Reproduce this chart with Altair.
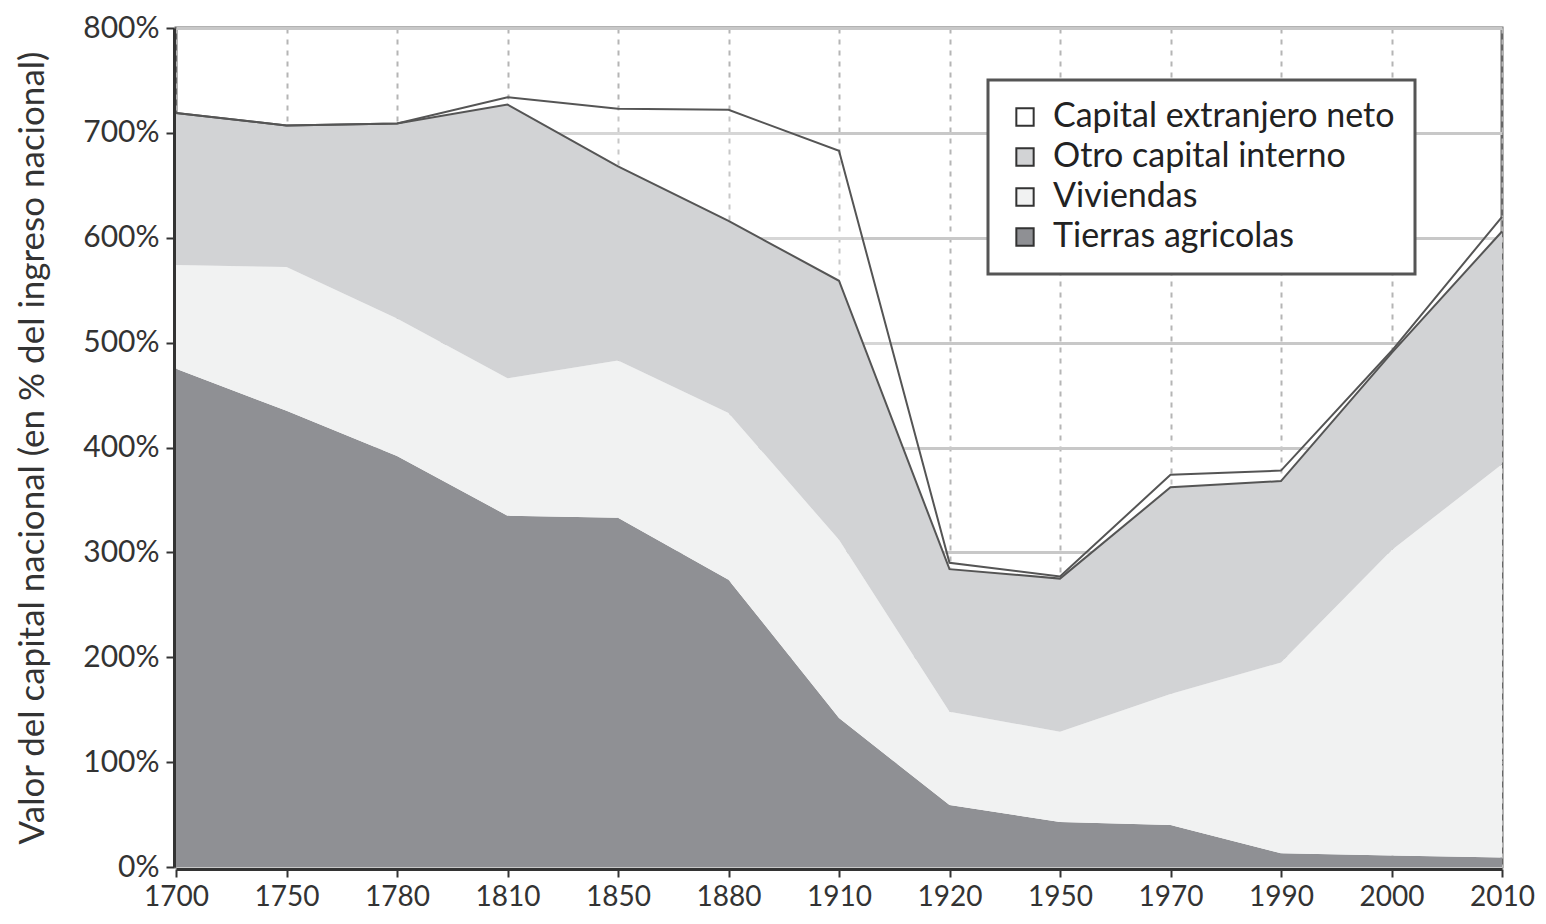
import altair as alt
import pandas as pd

years = ["1700", "1750", "1780", "1810", "1850", "1880", "1910",
         "1920", "1950", "1970", "1990", "2000", "2010"]
tierras = [475, 435, 392, 335, 333, 274, 142, 59, 43, 40, 13, 11, 9]
viviendas = [99, 137, 131, 131, 150, 159, 170, 89, 86, 125, 182, 291, 375]
otro = [145, 135, 186, 261, 185, 183, 247, 136, 146, 197, 173, 188, 222]
extranjero = [0, 0, 0, 7, 55, 106, 124, 6, 2, 12, 10, 2, 14]

series_names = ["Capital extranjero neto", "Otro capital interno", "Viviendas", "Tierras agricolas"]
series_colors = ["rgba(255,255,255,0.25)", "#d2d3d5", "#f1f2f2", "#8f9094"]
stack_order = {"Tierras agricolas": 0, "Viviendas": 1, "Otro capital interno": 2, "Capital extranjero neto": 3}

wide = pd.DataFrame({
    "year": years,
    "Tierras agricolas": tierras,
    "Viviendas": viviendas,
    "Otro capital interno": otro,
    "Capital extranjero neto": extranjero,
})
long = wide.melt(id_vars="year", var_name="serie", value_name="valor")
long["ord"] = long["serie"].map(stack_order)

FONT = "Lato"
xenc = alt.X("year:O", sort=years, scale=alt.Scale(type="point", padding=0),
             axis=alt.Axis(title=None, labelAngle=0, grid=True, gridDash=[5, 6],
                           gridColor="#b5b5b5", gridWidth=2, labelFontSize=28,
                           labelPadding=6, tickSize=8, offset=2))
yscale = alt.Scale(domain=[0, 800], nice=False)

areas = alt.Chart(long).mark_area(interpolate="linear").encode(
    x=xenc,
    y=alt.Y("valor:Q", stack="zero", scale=yscale,
            axis=alt.Axis(values=[0, 100, 200, 300, 400, 500, 600, 700, 800],
                          labelExpr="datum.value + '%'",
                          title="Valor del capital nacional (en % del ingreso nacional)",
                          grid=True, gridColor="#c8c8c8", gridWidth=3,
                          labelFontSize=30, labelPadding=7, tickSize=8, offset=2,
                          titleFontSize=35, titlePadding=32)),
    color=alt.Color("serie:N",
                    scale=alt.Scale(domain=series_names, range=series_colors),
                    legend=alt.Legend(title=None, orient="none", legendX=812, legendY=52,
                                      symbolType="square", symbolSize=300,
                                      symbolStrokeColor="#333", symbolStrokeWidth=2,
                                      labelFontSize=34, labelColor="#222", labelLimit=0,
                                      rowPadding=6, padding=20, labelOffset=11,
                                      fillColor="white")),
    order=alt.Order("ord:Q"),
)

base_lines = alt.Chart(wide).transform_calculate(
    otro_top="datum['Tierras agricolas'] + datum['Viviendas'] + datum['Otro capital interno']",
    total="datum['Tierras agricolas'] + datum['Viviendas'] + datum['Otro capital interno'] + datum['Capital extranjero neto']",
)
line_otro = base_lines.mark_line(color="#555", strokeWidth=2).encode(
    x=alt.X("year:O", sort=years), y=alt.Y("otro_top:Q", scale=yscale))
line_total = base_lines.mark_line(color="#555", strokeWidth=2).encode(
    x=alt.X("year:O", sort=years), y=alt.Y("total:Q", scale=yscale))

chart = alt.layer(areas, line_otro, line_total).properties(
    width=1326, height=839,
    autosize=alt.AutoSizeParams(type="none"),
    padding={"left": 168, "top": 20, "right": 36, "bottom": 49},
).configure(font=FONT).configure_view(
    stroke="#666", strokeWidth=3
).configure_axis(
    domainColor="#333", domainWidth=3, tickColor="#333", tickWidth=2,
    labelColor="#333", titleColor="#333", titleFontWeight="normal",
    labelFont=FONT, titleFont=FONT,
).configure_legend(
    strokeColor="#555", strokeWidth=3, labelFont=FONT,
)

chart.save("out.html", embed_options={"renderer": "svg", "actions": False})
